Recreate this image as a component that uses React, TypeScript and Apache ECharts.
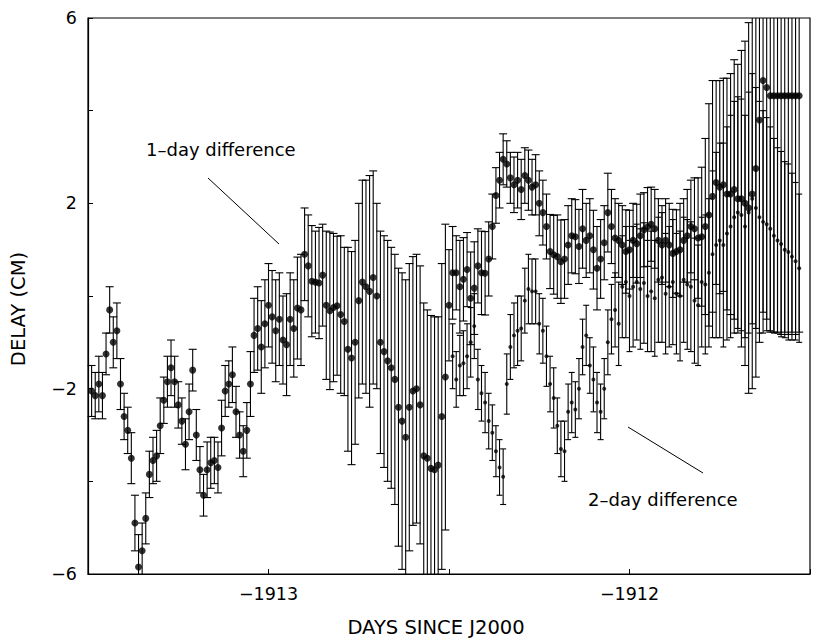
import React, { useEffect, useRef } from "react";
import * as echarts from "echarts";

// sampling of the observations (days since J2000)
const T1_START = -1913.49; // first 1-day difference epoch
const T2_START = -1912.49; // first 2-day difference epoch
const STEP = 0.01;

// 1-day difference delays (cm)
const delay1 = [
  -2.05, -2.15, -1.9, -2.15, -1.25, -0.3, -1.0, -0.75, -1.9, -2.6,
  -2.9, -3.5, -4.9, -5.85, -5.5, -4.8, -3.85, -3.55, -3.45, -2.8,
  -2.25, -1.85, -1.55, -1.85, -2.35, -2.7, -3.2, -2.5, -1.6, -3.0,
  -3.75, -4.3, -3.75, -3.6, -3.55, -3.7, -2.85, -2.05, -1.9, -1.7,
  -2.5, -3.0, -3.35, -2.9, -1.9, -0.85, -0.7, -1.1, -0.6, -0.2,
  -0.45, -0.75, -0.5, -0.95, -1.05, -0.5, -0.7, -0.26, -0.3, 0.9,
  0.65, 0.32, 0.3, 0.28, 0.45, -0.2, -0.32, -0.25, -0.21, -0.4,
  -0.55, -1.15, -1.34, -1.0, -0.1, 0.3, 0.2, 0.1, 0.4, 0.0,
  -1.0, -1.2, -1.4, -1.55, -1.8, -2.4, -2.7, -3.05, -2.4, -2.05,
  -2.0, -2.35, -3.45, -3.5, -3.72, -3.75, -3.65, -2.6, -1.75, -0.2,
  0.5, 0.5, 0.2, 0.36, 0.57, -0.05, 0.17, 0.65, 0.5, 0.49,
  0.8, 1.5, 2.17, 2.5, 2.95, 2.85, 2.55, 2.4, 2.5, 2.3,
  2.6, 2.5, 2.35, 2.4, 2.0, 1.8, 1.5, 0.96, 0.89, 0.85,
  0.74, 0.8, 1.1, 1.3, 1.28, 1.07, 1.45, 1.2, 1.3, 1.0,
  0.6, 0.8, 1.15, 1.8, 1.5, 1.25, 1.2, 1.1, 0.96, 1.0,
  1.2, 1.13, 1.3, 1.43, 1.49, 1.55, 1.45, 1.2, 1.1, 1.2,
  1.1, 0.92, 0.96, 1.0, 1.2, 1.3, 1.5, 1.45, 1.25, 1.28,
  1.5, 1.75, 2.15, 2.45, 2.35, 2.4, 2.2, 2.2, 2.3, 2.1,
  2.1, 2.0, 1.9, 2.2, 2.75, 3.8, 4.65, 4.5, 4.32, 4.32,
  4.32, 4.32, 4.32, 4.32, 4.32, 4.32, 4.32,
];

// 1-day difference one-sigma errors (cm)
const err1 = [
  0.55, 0.5, 0.6, 0.5, 0.45, 0.5, 0.55, 0.6, 0.55, 0.5,
  0.5, 0.55, 0.6, 0.7, 0.6, 0.55, 0.5, 0.5, 0.55, 0.6,
  0.5, 0.55, 0.6, 0.55, 0.5, 0.5, 0.55, 0.6, 0.45, 0.55,
  0.5, 0.45, 0.6, 0.55, 0.5, 0.55, 0.6, 0.55, 0.5, 0.6,
  0.55, 0.5, 0.55, 0.6, 0.7, 0.8, 0.9, 1.0, 0.95, 0.9,
  1.0, 1.1, 1.0, 0.95, 1.1, 1.0, 1.05, 1.1, 1.2, 1.0,
  1.1, 1.2, 1.1, 1.2, 1.1, 1.6, 1.7, 1.6, 1.5, 1.7,
  1.6, 2.2, 2.3, 2.2, 2.1, 2.2, 2.3, 2.5, 2.3, 2.0,
  2.4, 2.5, 2.6, 2.6, 2.7, 3.0, 3.2, 3.4, 3.1, 2.9,
  2.9, 3.0, 3.3, 3.2, 3.3, 3.3, 3.2, 3.3, 3.3, 1.2,
  1.0, 0.8, 1.0, 0.9, 0.8, 1.0, 1.0, 0.8, 0.9, 0.9,
  0.8, 0.7, 0.6, 0.6, 0.55, 0.5, 0.55, 0.6, 0.6, 0.65,
  0.6, 0.65, 0.6, 0.65, 0.7, 0.7, 0.7, 0.8, 0.85, 0.9,
  0.9, 0.85, 0.85, 0.8, 0.8, 0.8, 0.85, 0.8, 0.8, 0.85,
  0.9, 0.85, 0.8, 0.85, 0.8, 0.85, 0.8, 0.85, 0.9, 0.85,
  0.8, 0.85, 0.9, 0.8, 0.85, 0.8, 0.85, 0.9, 0.85, 0.9,
  0.9, 0.95, 0.9, 1.0, 0.9, 1.0, 1.0, 1.1, 1.3, 1.5,
  1.9, 2.4, 2.5, 2.2, 2.3, 2.3, 2.5, 2.6, 2.8, 2.9,
  3.2, 3.5, 4.0, 4.2, 4.5, 4.8, 5.0, 5.0, 5.1, 5.1,
  5.1, 5.15, 5.1, 5.15, 5.1, 5.15, 5.1,
];

// 2-day difference delays (cm)
const delay2 = [
  -1.3, -1.8, -1.5, -1.45, -1.3, -1.0, -0.65, -1.8, -2.1, -2.3,
  -2.7, -2.95, -3.35, -3.7, -3.9, -1.9, -1.1, -0.85, -0.75, -0.7,
  -0.1, 0.15, 0.1, 0.1, -0.6, -0.75, -1.3, -1.9, -2.2, -2.8,
  -3.3, -3.35, -2.5, -2.3, -2.45, -2.0, -1.1, -0.85, -1.5, -1.8,
  -2.3, -2.5, -2.0, -1.0, -0.5, -0.3, -0.6, 0.2, 0.3, 0.0,
  0.2, 0.3, 0.15, 0.28, 0.0, 0.1, -0.05, 0.35, 0.4, 0.05,
  0.2, 0.3, 0.05, 0.0, 0.35, 0.25, 0.2, -0.1, -0.2, 0.3,
  0.25, 0.5, 0.9, 1.1, 1.2, 1.1, 1.35, 1.5, 1.7, 1.8,
  1.75, 1.5, 1.8, 2.1, 1.9, 1.7, 1.6, 1.55, 1.45, 1.3,
  1.2, 1.12, 1.0, 0.95, 0.85, 0.75, 0.6,
];

// 2-day difference one-sigma errors (cm)
const err2 = [
  0.7, 0.6, 0.65, 0.7, 0.7, 0.75, 0.7, 0.65, 0.6, 0.65,
  0.6, 0.6, 0.55, 0.6, 0.6, 0.65, 0.7, 0.7, 0.75, 0.7,
  0.7, 0.75, 0.7, 0.7, 0.65, 0.7, 0.65, 0.6, 0.65, 0.6,
  0.6, 0.65, 0.6, 0.65, 0.6, 0.65, 0.6, 0.65, 0.6, 0.7,
  0.65, 0.6, 0.65, 0.7, 0.75, 0.8, 0.9, 1.1, 1.2, 1.2,
  1.3, 1.25, 1.3, 1.3, 1.2, 1.3, 1.25, 1.35, 1.4, 1.3,
  1.3, 1.35, 1.3, 1.4, 1.35, 1.4, 1.4, 1.35, 1.3, 1.4,
  1.5, 1.6, 1.8, 2.0, 2.1, 2.2, 2.3, 2.4, 2.5, 2.5,
  2.5, 2.4, 2.6, 2.7, 2.6, 2.5, 2.4, 2.3, 2.2, 2.1,
  2.0, 2.0, 1.9, 1.9, 1.8, 1.7, 1.6,
];

const xTickLabels = [-1913, -1912];
const yTickLabels = [-6, -2, 2, 6];

const FONT = "DejaVu Sans";
const MINUS = "\u2212";

function fmt(v: number) {
  return v < 0 ? MINUS + Math.abs(v) : String(v);
}

function makeBarRenderer(capHalf: number) {
  return (params: any, api: any) => {
    const t = api.value(0);
    const lo = api.value(1);
    const hi = api.value(2);
    const a = api.coord([t, hi]);
    const b = api.coord([t, lo]);
    const cs = params.coordSys;
    const top = cs.y;
    const bottom = cs.y + cs.height;
    const x = a[0];
    if (x < cs.x - 0.5 || x > cs.x + cs.width) return null;
    const y1 = Math.max(a[1], top);
    const y2 = Math.min(b[1], bottom);
    const st = { stroke: "#000", lineWidth: 1.1 };
    const children: any[] = [];
    if (y2 > y1) {
      children.push({ type: "line", shape: { x1: x, y1, x2: x, y2 }, style: st });
    }
    if (a[1] >= top && a[1] <= bottom) {
      children.push({ type: "line", shape: { x1: x - capHalf, y1: a[1], x2: x + capHalf, y2: a[1] }, style: st });
    }
    if (b[1] <= bottom && b[1] >= top) {
      children.push({ type: "line", shape: { x1: x - capHalf, y1: b[1], x2: x + capHalf, y2: b[1] }, style: st });
    }
    return { type: "group", children };
  };
}

export default function App() {
  const ref = useRef<HTMLDivElement>(null);
  useEffect(() => {
    if (!ref.current) return;
    const chart = echarts.init(ref.current, null, { renderer: "svg" });

    const t1 = delay1.map((_, i) => +(T1_START + i * STEP).toFixed(4));
    const t2 = delay2.map((_, i) => +(T2_START + i * STEP).toFixed(4));
    const pts1 = delay1.map((v, i) => [t1[i], v]);
    const pts2 = delay2.map((v, i) => [t2[i], v]);
    const bars1 = delay1.map((v, i) => [t1[i], v - err1[i], v + err1[i]]);
    const bars2 = delay2.map((v, i) => [t2[i], v - err2[i], v + err2[i]]);

    const labelStyle = { color: "#000", fontSize: 17.5, fontFamily: FONT };
    const nameStyle = { color: "#000", fontSize: 19.5, fontFamily: FONT };

    chart.setOption({
      animation: false,
      backgroundColor: "#fff",
      grid: {
        left: 86,
        top: 18,
        width: 740,
        height: 564,
        show: true,
        borderColor: "#000",
        borderWidth: 1.2,
      },
      xAxis: {
        type: "value",
        min: -1913.5,
        max: -1911.5,
        interval: 0.5,
        axisLine: { show: true, onZero: false, lineStyle: { color: "#000", width: 1.2 } },
        axisTick: { show: true, inside: true, length: 5, lineStyle: { color: "#000" } },
        splitLine: { show: false },
        axisLabel: {
          ...labelStyle,
          margin: 11,
          formatter: (v: number) =>
            xTickLabels.some((k) => Math.abs(k - v) < 1e-6) ? fmt(Math.round(v)) : "",
        },
        name: "DAYS SINCE J2000",
        nameLocation: "middle",
        nameGap: 43,
        nameTextStyle: { ...nameStyle, padding: [0, 26, 0, 0] },
      },
      yAxis: {
        type: "value",
        min: -6,
        max: 6,
        interval: 2,
        axisLine: { show: true, onZero: false, lineStyle: { color: "#000", width: 1.2 } },
        axisTick: { show: true, inside: true, length: 5, lineStyle: { color: "#000" } },
        splitLine: { show: false },
        axisLabel: {
          ...labelStyle,
          margin: 11,
          formatter: (v: number) =>
            yTickLabels.some((k) => Math.abs(k - v) < 1e-6) ? fmt(Math.round(v)) : "",
        },
        name: "DELAY (CM)",
        nameLocation: "middle",
        nameGap: 60,
        nameRotate: 90,
        nameTextStyle: { ...nameStyle, padding: [0, 26, 0, 0] },
      },
      graphic: [
        {
          type: "text",
          left: 146,
          top: 140,
          style: { text: "1\u2013day difference", fill: "#000", font: `18px "${FONT}"` },
        },
        {
          type: "line",
          shape: { x1: 208, y1: 178, x2: 279, y2: 244 },
          style: { stroke: "#000", lineWidth: 1 },
        },
        {
          type: "text",
          left: 588,
          top: 490,
          style: { text: "2\u2013day difference", fill: "#000", font: `18px "${FONT}"` },
        },
        {
          type: "line",
          shape: { x1: 628, y1: 427, x2: 703, y2: 473 },
          style: { stroke: "#000", lineWidth: 1 },
        },
      ],
      series: [
        {
          name: "1-day difference error",
          type: "custom",
          renderItem: makeBarRenderer(4),
          data: bars1,
          encode: { x: 0, y: [1, 2] },
          silent: true,
          z: 2,
        },
        {
          name: "2-day difference error",
          type: "custom",
          renderItem: makeBarRenderer(3),
          data: bars2,
          encode: { x: 0, y: [1, 2] },
          silent: true,
          z: 2,
        },
        {
          name: "1-day difference",
          type: "scatter",
          data: pts1,
          symbol: "circle",
          symbolSize: 7,
          itemStyle: { color: "#000" },
          silent: true,
          z: 3,
        },
        {
          name: "2-day difference",
          type: "scatter",
          data: pts2,
          symbol: "circle",
          symbolSize: 4,
          itemStyle: { color: "#000" },
          silent: true,
          z: 3,
        },
      ],
    });
    return () => chart.dispose();
  }, []);
  return (
    <div
      ref={ref}
      style={{ position: "absolute", left: 0, top: 0, width: 813, height: 642, background: "#fff" }}
    />
  );
}
